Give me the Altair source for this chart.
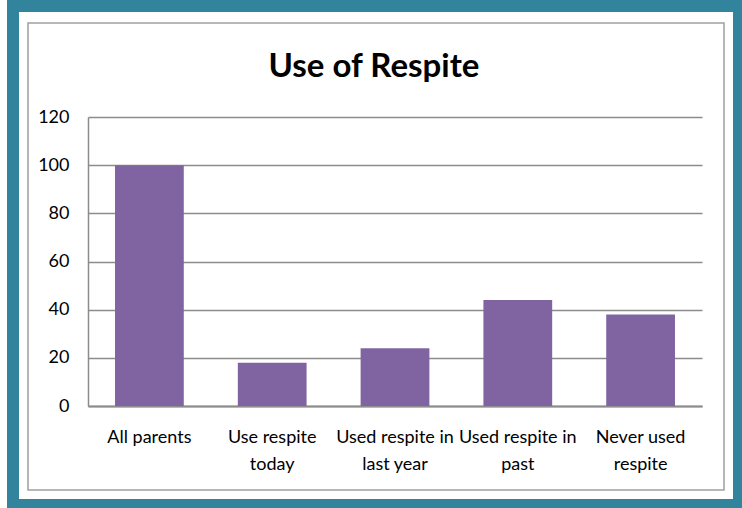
import altair as alt
import pandas as pd

# Share of parents in each respite-use group (%)
categories = [
    "All parents",
    "Use respite\ntoday",
    "Used respite in\nlast year",
    "Used respite in\npast",
    "Never used\nrespite",
]
values = [100, 18, 24, 44, 38]
y_ticks = [0, 20, 40, 60, 80, 100, 120]

df = pd.DataFrame({"group": categories, "pct": values})

FONT = "Lato"
PURPLE = "#8064A2"
TEAL = "#31849B"
GRID = "#8C8C8C"

W, H = 614, 289

bars = (
    alt.Chart(df)
    .mark_bar(color=PURPLE)
    .encode(
        x=alt.X(
            "group:N",
            sort=None,
            title=None,
            scale=alt.Scale(paddingInner=0.44, paddingOuter=0.22),
            axis=alt.Axis(
                labelAngle=0,
                labelExpr="split(datum.label, '\\n')",
                labelLineHeight=27,
                labelPadding=22,
                ticks=False,
                domainColor=GRID,
                domainWidth=2,
                labelFont=FONT,
                labelFontSize=18,
                labelColor="#000000",
            ),
        ),
        y=alt.Y(
            "pct:Q",
            title=None,
            scale=alt.Scale(domain=[0, 120], nice=False),
            axis=alt.Axis(
                values=y_ticks,
                ticks=False,
                labelPadding=19,
                domainColor=GRID,
                domainWidth=1.5,
                gridColor=GRID,
                gridWidth=1.5,
                labelFont=FONT,
                labelFontSize=18,
                labelColor="#000000",
            ),
        ),
    )
)

frame_src = pd.DataFrame({"k": [0]})

# Thick teal outer frame
outer = (
    alt.Chart(frame_src)
    .mark_rect(fillOpacity=0, stroke=TEAL, strokeWidth=12)
    .encode(
        x=alt.value(-75), x2=alt.value(W + 37),
        y=alt.value(-111), y2=alt.value(H + 99),
    )
)

# Thin grey inner border around the chart area
inner = (
    alt.Chart(frame_src)
    .mark_rect(fillOpacity=0, stroke="#A0A0A0", strokeWidth=1.5)
    .encode(
        x=alt.value(-60), x2=alt.value(W + 22),
        y=alt.value(-94), y2=alt.value(H + 84),
    )
)

chart = (
    alt.layer(outer, inner, bars)
    .properties(
        width=W,
        height=H,
        title=alt.TitleParams(
            "Use of Respite",
            font=FONT,
            fontSize=33,
            fontWeight="bold",
            color="#000000",
            anchor="middle",
            baseline="alphabetic",
            dx=-21,
            offset=-110,
        ),
        autosize=alt.AutoSizeParams(type="none"),
        padding={"left": 88, "top": 117, "right": 40, "bottom": 102},
        background="white",
    )
    .configure_view(stroke=None)
)

chart.save("out.html", embed_options={"renderer": "svg", "actions": False})
